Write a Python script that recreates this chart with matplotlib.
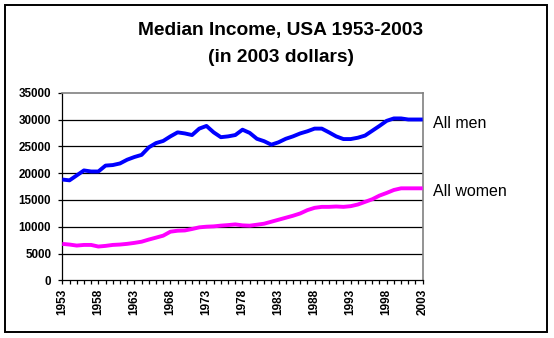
import matplotlib
matplotlib.use("Agg")
import matplotlib.pyplot as plt
from matplotlib.patches import Rectangle

years = list(range(1953, 2004))
men = [18800, 18650, 19570, 20500, 20300, 20300, 21400, 21500, 21800, 22500,
       23000, 23400, 24800, 25600, 26000, 26850, 27600, 27400, 27100, 28300,
       28800, 27600, 26700, 26850, 27100, 28100, 27500, 26400, 25950, 25300,
       25750, 26400, 26850, 27400, 27800, 28300, 28300, 27600, 26850, 26350,
       26350, 26600, 27000, 27900, 28800, 29750, 30200, 30200, 30000, 30000,
       30000]
women = [6790, 6670, 6480, 6600, 6600, 6300, 6420, 6600, 6670, 6800,
         6980, 7200, 7600, 7960, 8330, 9070, 9250, 9300, 9570, 9880,
         10000, 10060, 10200, 10300, 10430, 10250, 10190, 10370, 10560, 10930,
         11300, 11670, 12040, 12470, 13090, 13520, 13700, 13700, 13770, 13700,
         13830, 14140, 14630, 15120, 15800, 16300, 16850, 17160, 17160, 17160,
         17160]
series_names = ["All men", "All women"]
title_lines = ["Median Income, USA 1953-2003", "(in 2003 dollars)"]
y_ticks = [0, 5000, 10000, 15000, 20000, 25000, 30000, 35000]

W, H = 554, 338
fig = plt.figure(figsize=(W / 100, H / 100), dpi=100)
fig.patch.set_facecolor("white")

def fx(px):
    return px / W

def fy(py):
    return (H - py) / H

ax = fig.add_axes([fx(62.3), fy(280.3), fx(422.7) - fx(62.3), fy(92.7) - fy(280.3)])
ax.set_xlim(years[0], years[-1])
ax.set_ylim(0, 35000)

for yv in y_ticks[1:-1]:
    ax.axhline(yv, color="black", lw=0.9, zorder=1)

ax.plot(years, men, color="#0000FF", lw=2.8, zorder=3, solid_capstyle="butt")
ax.plot(years, women, color="#FF00FF", lw=2.8, zorder=3, solid_capstyle="butt")

ax.set_yticks(y_ticks)
ax.set_yticklabels([str(v) for v in y_ticks], fontfamily="Liberation Sans",
                   fontweight="bold", fontsize=8.4)
ax.set_xticks(years)
ax.set_xticklabels([str(y) if (y - 1953) % 5 == 0 else "" for y in years],
                   rotation=90, fontfamily="Liberation Sans", fontweight="bold",
                   fontsize=8.5)
ax.tick_params(axis="y", direction="out", length=3, width=0.9, pad=5, color="black")
ax.tick_params(axis="x", direction="out", length=3, width=0.9, pad=3, color="black")

for s in ["left", "bottom"]:
    ax.spines[s].set_color("black")
    ax.spines[s].set_linewidth(0.9)
for s in ["top", "right"]:
    ax.spines[s].set_color("#808080")
    ax.spines[s].set_linewidth(1.2)

fig.text(fx(433), fy(123), series_names[0], ha="left", va="center",
         fontfamily="Liberation Sans", fontsize=11.5)
fig.text(fx(433), fy(191), series_names[1], ha="left", va="center",
         fontfamily="Liberation Sans", fontsize=11.5)

fig.text(fx(281), fy(30), title_lines[0], ha="center", va="center",
         fontfamily="Liberation Sans", fontweight="bold", fontsize=13.8)
fig.text(fx(281), fy(58), title_lines[1], ha="center", va="center",
         fontfamily="Liberation Sans", fontweight="bold", fontsize=13.8)

fig.patches.append(Rectangle((fx(5), fy(332)), fx(547) - fx(5), fy(5) - fy(332),
                             transform=fig.transFigure, fill=False,
                             edgecolor="black", lw=1.4))

fig.savefig("out.png", dpi=100, facecolor="white")
